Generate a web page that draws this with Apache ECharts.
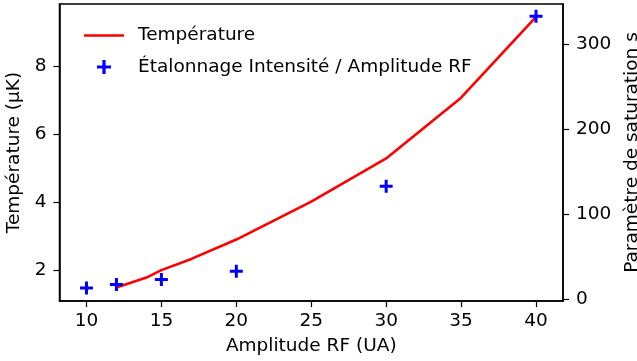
<!DOCTYPE html>
<html>
<head>
<meta charset="utf-8">
<script src="https://cdn.jsdelivr.net/npm/echarts@6/dist/echarts.min.js"></script>
<style>
  html, body { margin: 0; padding: 0; background: #fff; }
  #chart { width: 637px; height: 361px; }
</style>
</head>
<body>
<div id="chart"></div>
<script>
// Temperature vs RF amplitude (left axis)
const tempAmplitude = [12, 14, 15, 17, 20, 25, 30, 35, 40];
const temperature = [1.48, 1.77, 1.99, 2.32, 2.89, 4.01, 5.28, 7.07, 9.45];

// Intensity / RF amplitude calibration, saturation parameter (right axis)
const calibAmplitude = [10, 12, 15, 20, 30, 40];
const saturation = [12.9, 16.9, 22.8, 32.6, 132.9, 333.3];

// Tick labels
const xTicks = [10, 15, 20, 25, 30, 35, 40];
const leftTicks = [2, 4, 6, 8];
const rightTicks = [0, 100, 200, 300];

const FONT = 'DejaVu Sans';
const plusPath = 'path://M5,0H8V5H13V8H8V13H5V8H0V5H5Z';
const linePath = 'path://M0,0H40V2.6H0Z';

const axisCommon = {
  axisLine: { show: true, onZero: false, lineStyle: { color: '#000', width: 1.5 } },
  axisTick: { show: true, inside: false, length: 6, lineStyle: { color: '#000', width: 1.2 } },
  axisLabel: { color: '#000', fontFamily: FONT, fontSize: 18.5 },
  splitLine: { show: false },
  nameTextStyle: { color: '#000', fontFamily: FONT, fontSize: 18.5 }
};

const chart = echarts.init(document.getElementById('chart'), null, { renderer: 'canvas' });
chart.setOption({
  animation: false,
  backgroundColor: '#fff',
  grid: {
    left: 59.5, right: 74, top: 4, bottom: 60,
    containLabel: false, outerBoundsMode: 'none',
    show: true, borderColor: '#000', borderWidth: 1.5, backgroundColor: 'transparent'
  },
  legend: {
    orient: 'vertical',
    left: 79, top: 21,
    itemWidth: 40, itemHeight: 14, itemGap: 12.5,
    textStyle: { color: '#000', fontFamily: FONT, fontSize: 18.5, padding: [0, 0, 0, 9] },
    data: [
      { name: 'Température', icon: linePath, itemStyle: { color: '#ff0000' } },
      { name: 'Étalonnage Intensité / Amplitude RF', icon: plusPath, itemStyle: { color: '#0000ff', opacity: 1 } }
    ]
  },
  xAxis: Object.assign({}, axisCommon, {
    type: 'value', min: 8.2, max: 41.8,
    name: 'Amplitude RF (UA)', nameLocation: 'middle', nameGap: 36,
    axisTick: Object.assign({}, axisCommon.axisTick, { customValues: xTicks }),
    axisLabel: Object.assign({}, axisCommon.axisLabel, { customValues: xTicks, margin: 11 })
  }),
  yAxis: [
    Object.assign({}, axisCommon, {
      type: 'value', position: 'left', min: 1.08, max: 9.83,
      name: 'Température (µK)', nameLocation: 'middle', nameGap: 31, nameRotate: 90,
      axisTick: Object.assign({}, axisCommon.axisTick, { customValues: leftTicks }),
      axisLabel: Object.assign({}, axisCommon.axisLabel, { customValues: leftTicks, margin: 13 })
    }),
    Object.assign({}, axisCommon, {
      type: 'value', position: 'right', min: -2.4, max: 347.6,
      name: 'Paramètre de saturation s', nameLocation: 'middle', nameGap: 55, nameRotate: 90,
      axisTick: Object.assign({}, axisCommon.axisTick, { customValues: rightTicks }),
      axisLabel: Object.assign({}, axisCommon.axisLabel, { customValues: rightTicks, margin: 13 })
    })
  ],
  series: [
    {
      name: 'Température', type: 'line', yAxisIndex: 0,
      data: tempAmplitude.map((x, i) => [x, temperature[i]]),
      showSymbol: false, symbol: 'none',
      lineStyle: { color: '#ff0000', width: 2.6 },
      itemStyle: { color: '#ff0000' },
      z: 2
    },
    {
      name: 'Étalonnage Intensité / Amplitude RF', type: 'scatter', yAxisIndex: 1,
      data: calibAmplitude.map((x, i) => [x, saturation[i]]),
      symbol: plusPath, symbolSize: 13,
      itemStyle: { color: '#0000ff', opacity: 1 },
      z: 3
    }
  ]
});
</script>
</body>
</html>
